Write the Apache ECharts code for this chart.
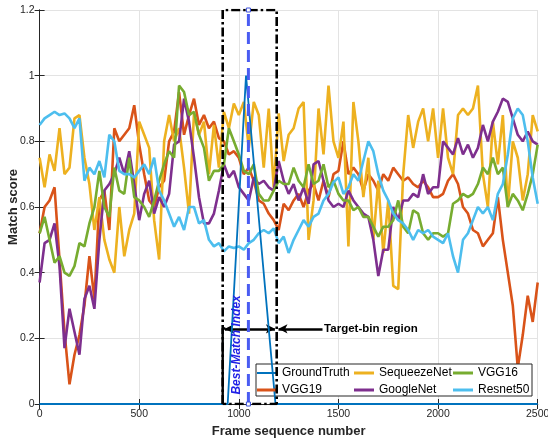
<!DOCTYPE html>
<html>
<head>
<meta charset="utf-8">
<script src="https://cdn.jsdelivr.net/npm/echarts@6/dist/echarts.min.js"></script>
<style>html,body{margin:0;padding:0;background:#fff}#c{width:548px;height:441px}</style>
</head>
<body>
<div id="c"></div>
<script>
// ---------------- data ----------------
const frames = Array.from({length: 101}, (_, i) => i * 25); // 0..2500 step 25
const xTicks = [0, 500, 1000, 1500, 2000, 2500];
const yTicks = [0, 0.2, 0.4, 0.6, 0.8, 1, 1.2];

const gtFrames = [0, 944, 1036, 1184, 2500];
const gtValues = [0, 0, 1.0, 0, 0];

const vgg19 = [
  .52,.60,.62,.66,.44,.22,.06,.15,.21,.30,
  .45,.32,.62,.65,.53,.84,.80,.82,.84,.91,
  .79,.70,.62,.60,.66,.68,.80,.83,.95,.82,
  .88,.93,.85,.88,.84,.86,.81,.80,.76,.77,
  .75,.70,.72,.68,.62,.61,.58,.56,.53,.61,
  .59,.62,.64,.60,.65,.67,.62,.68,.63,.70,
  .71,.80,.70,.72,.70,.65,.70,.68,.65,.70,
  .68,.72,.70,.68,.69,.67,.66,.68,.66,.63,
  .63,.64,.68,.70,.67,.60,.58,.53,.52,.48,
  .50,.52,.63,.50,.40,.30,.11,.21,.33,.25,
  .37];
const squeezeNet = [
  .75,.66,.76,.71,.84,.70,.72,.87,.88,.75,
  .67,.53,.63,.50,.44,.40,.60,.45,.53,.58,
  .86,.82,.78,.56,.44,.80,.88,.80,.84,.72,
  .58,.885,.82,.86,.70,.85,.72,.89,.84,.915,
  .88,.92,.78,.92,.88,.72,.90,.66,.885,.74,
  .82,.84,.90,.92,.50,.62,.90,.76,.97,.80,
  .75,.86,.48,.92,.80,.63,.75,.50,.68,.46,
  .62,.36,.35,.70,.88,.78,.86,.90,.80,.90,
  .75,.90,.75,.70,.88,.90,.88,.90,.97,.70,
  .60,.86,.73,.88,.60,.80,.75,.62,.70,.88,
  .83];
const googleNet = [
  .37,.49,.50,.55,.42,.17,.29,.22,.15,.32,
  .36,.29,.50,.65,.67,.70,.75,.70,.77,.67,
  .56,.64,.68,.58,.63,.60,.64,.79,.80,.93,
  .86,.75,.63,.55,.55,.58,.65,.73,.69,.71,
  .66,.64,.62,.69,.67,.68,.66,.65,.74,.68,
  .64,.67,.62,.66,.61,.73,.74,.68,.62,.60,
  .61,.60,.65,.62,.60,.58,.57,.50,.39,.47,
  .47,.60,.56,.62,.62,.64,.63,.70,.64,.66,
  .66,.80,.78,.76,.81,.76,.79,.75,.78,.85,
  .80,.86,.89,.93,.92,.87,.82,.80,.83,.80,
  .79];
const vgg16 = [
  .52,.57,.50,.43,.45,.40,.39,.42,.49,.48,
  .55,.60,.71,.60,.57,.72,.65,.64,.75,.63,
  .62,.60,.57,.62,.68,.73,.77,.75,.97,.95,
  .88,.89,.82,.78,.68,.71,.71,.73,.84,.80,
  .76,.71,.70,.73,.64,.62,.62,.65,.68,.67,
  .67,.72,.68,.66,.73,.67,.68,.73,.66,.68,
  .64,.62,.62,.59,.60,.57,.57,.54,.51,.54,
  .54,.56,.62,.54,.52,.59,.58,.52,.50,.52,
  .52,.51,.52,.61,.62,.64,.63,.64,.67,.72,
  .70,.75,.70,.72,.60,.64,.62,.59,.64,.70,
  .79];
const resnet50 = [
  .85,.87,.88,.89,.88,.885,.87,.84,.87,.68,
  .72,.70,.74,.69,.82,.80,.71,.70,.70,.69,
  .71,.73,.70,.75,.65,.62,.58,.54,.57,.53,
  .60,.60,.55,.56,.50,.48,.49,.465,.48,.475,
  .48,.47,.49,.50,.52,.53,.52,.535,.49,.51,
  .46,.50,.53,.56,.54,.57,.58,.62,.64,.675,
  .69,.64,.66,.70,.68,.74,.80,.77,.70,.65,
  .62,.58,.56,.55,.53,.50,.53,.52,.53,.51,
  .50,.49,.52,.45,.40,.50,.52,.56,.60,.58,
  .60,.56,.64,.67,.76,.87,.90,.88,.80,.69,
  .61];

// annotation anchors (data coords)
const binBox = [[919,0],[919,1.2],[1190,1.2],[1190,0],[919,0]];
const binLower = [[919,0],[919,0.23],[932,0.23]];
const bestMatch = [[1048,0],[1048,1.2]];

// ---------------- chart ----------------
const chart = echarts.init(document.getElementById('c'), null, {renderer: 'canvas'});
const FONT = '"Liberation Sans", Arial, Helvetica, sans-serif';
const AX = '#262626';
const pair = arr => frames.map((f, i) => [f, arr[i]]);

function dataSeries(name, color, arr, width, z) {
  return {
    name, type: 'line', data: arr, symbol: 'none', showSymbol: false,
    lineStyle: {color, width}, itemStyle: {color}, z: z || 2,
    animation: false, silent: true
  };
}

const legendItems = [
  ['GroundTruth', 257, 366, 2],
  ['SequeezeNet', 354, 366, 3],
  ['VGG16', 453, 366, 3],
  ['VGG19', 257, 383, 3],
  ['GoogleNet', 354, 383, 3],
  ['Resnet50', 453, 383, 3]
];

const option = {
  animation: false,
  backgroundColor: '#fff',
  grid: {left: 39.6, right: 10.3, top: 10, bottom: 37, containLabel: false, outerBoundsMode: 'none'},
  xAxis: [{
    type: 'value', min: 0, max: 2500, interval: 500,
    name: 'Frame sequence number', nameLocation: 'middle', nameGap: 19,
    nameTextStyle: {fontFamily: FONT, fontWeight: 'bold', fontSize: 13, color: AX},
    axisLine: {show: true, lineStyle: {color: AX, width: 1}},
    axisTick: {show: true, inside: true, length: 5, lineStyle: {color: AX}},
    axisLabel: {fontFamily: FONT, fontSize: 10.5, color: AX, margin: 5,
      formatter: v => xTicks.includes(v) ? String(v) : ''},
    splitLine: {show: true, lineStyle: {color: '#e3e3e3', width: 1}}
  }, {
    type: 'value', min: 0, max: 2500, interval: 500, position: 'top',
    axisLine: {show: true, lineStyle: {color: AX, width: 1}},
    axisTick: {show: true, inside: true, length: 5, lineStyle: {color: AX}},
    axisLabel: {show: false}, splitLine: {show: false}
  }],
  yAxis: [{
    type: 'value', min: 0, max: 1.2, interval: 0.2,
    name: 'Match score', nameLocation: 'middle', nameGap: 20, nameMoveOverlap: false,
    nameTextStyle: {fontFamily: FONT, fontWeight: 'bold', fontSize: 13, color: AX},
    axisLine: {show: true, lineStyle: {color: AX, width: 1}},
    axisTick: {show: true, inside: true, length: 5, lineStyle: {color: AX}},
    axisLabel: {fontFamily: FONT, fontSize: 10.5, color: AX, margin: 5,
      formatter: v => { const t = yTicks.find(k => Math.abs(k - v) < 1e-6); return t === undefined ? '' : String(t); }},
    splitLine: {show: true, lineStyle: {color: '#e3e3e3', width: 1}}
  }, {
    type: 'value', min: 0, max: 1.2, interval: 0.2, position: 'right',
    axisLine: {show: true, lineStyle: {color: AX, width: 1}},
    axisTick: {show: true, inside: true, length: 5, lineStyle: {color: AX}},
    axisLabel: {show: false}, splitLine: {show: false}
  }],
  legend: legendItems.map(([name, left, top, h]) => ({
    data: [{name, icon: 'rect'}], left, top, padding: 0,
    itemWidth: 20, itemHeight: h, selectedMode: false, z: 20,
    textStyle: {fontFamily: FONT, fontSize: 12, color: '#000', lineHeight: 14}
  })),
  series: [
    dataSeries('VGG19', '#D95319', pair(vgg19), 2.6),
    dataSeries('SequeezeNet', '#EDB120', pair(squeezeNet), 2.6),
    dataSeries('GoogleNet', '#7E2F8E', pair(googleNet), 2.6),
    dataSeries('VGG16', '#77AC30', pair(vgg16), 2.6),
    dataSeries('Resnet50', '#4DBEEE', pair(resnet50), 2.6),
    dataSeries('GroundTruth', '#0072BD', gtFrames.map((f, i) => [f, gtValues[i]]), 1.8, 15),
    {
      type: 'line', data: binBox, symbol: 'none', silent: true, z: 30,
      lineStyle: {color: '#000', width: 2.6, type: [9, 3, 2.5, 3]},
      markLine: {
        silent: true, animation: false, symbol: ['arrow', 'arrow'], symbolSize: [7, 9],
        label: {show: false},
        lineStyle: {color: '#000', width: 2.5, type: 'solid'},
        data: [
          [{coord: [930, 0.229]}, {coord: [1181, 0.229]}],
          [{coord: [1420, 0.229], symbol: 'none'}, {coord: [1199, 0.229], symbol: 'arrow'}]
        ]
      }
    },
    {
      type: 'line', data: binLower, symbol: 'none', silent: true, z: 30,
      lineStyle: {color: '#000', width: 2.4, type: 'solid'}
    },
    {
      type: 'line', data: bestMatch, symbol: 'rect', symbolSize: 4, showSymbol: true, silent: true, z: 31,
      lineStyle: {color: '#4a5cf2', width: 3, type: [12, 6]},
      itemStyle: {color: '#fff', borderColor: '#3a4fd8', borderWidth: 1}
    }
  ]
};
chart.setOption(option);

const pBest = chart.convertToPixel({gridIndex: 0}, [991, 0.18]);
const pTarget = chart.convertToPixel({gridIndex: 0}, [1428, 0.23]);
chart.setOption({
  graphic: [
    {type: 'rect', id: 'legbox', z: 10, shape: {x: 256, y: 364, width: 276, height: 32},
      style: {fill: '#fff', stroke: AX, lineWidth: 1}, silent: true},
    {type: 'text', id: 'best', z: 40, x: pBest[0], y: pBest[1], rotation: Math.PI / 2,
      style: {text: 'Best-Match Index', font: 'italic bold 12px ' + FONT, fill: '#1f1fe6',
        textAlign: 'center', textVerticalAlign: 'middle'}, silent: true},
    {type: 'text', id: 'target', z: 40, x: pTarget[0], y: pTarget[1],
      style: {text: 'Target-bin region', font: 'bold 11.5px ' + FONT, fill: '#000',
        textAlign: 'left', textVerticalAlign: 'middle'}, silent: true}
  ]
});
</script>
</body>
</html>
